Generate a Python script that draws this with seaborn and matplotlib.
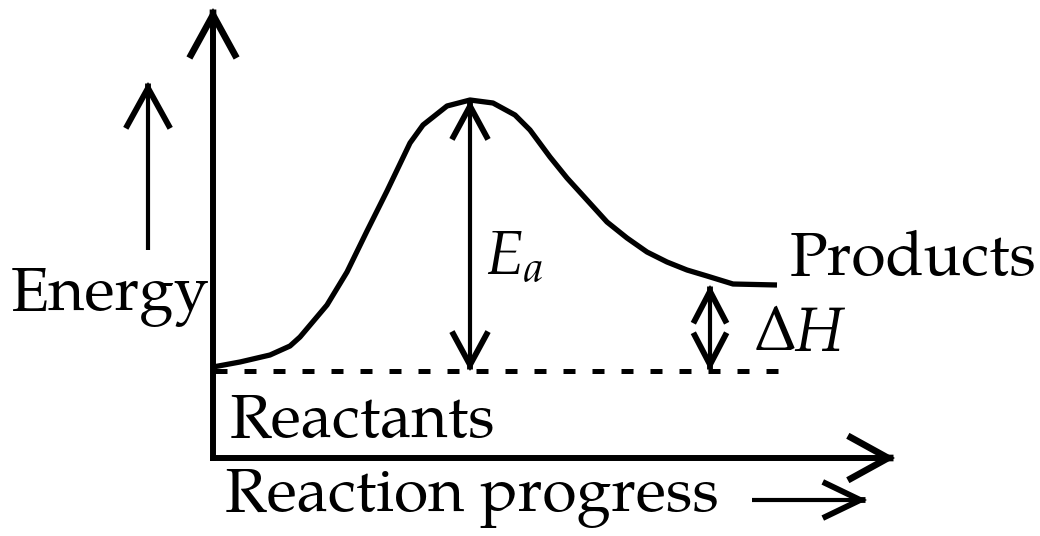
import matplotlib
matplotlib.use("Agg")
import matplotlib.pyplot as plt
import seaborn as sns
import pandas as pd
import numpy as np

# ---- data (reaction progress vs energy, arbitrary units) ----
progress = [0, 27, 57, 77, 87, 114, 134, 154, 174, 197, 210, 234, 257,
            280, 302, 317, 337, 354, 374, 394, 414, 434, 454, 474, 494, 520, 564]
energy = [91, 96, 103, 112, 121, 153, 186, 227, 267, 315, 333, 352, 358,
          355, 343, 328, 301, 280, 258, 236, 220, 206, 196, 188, 182, 174, 173]
reactant_level = 87
product_level = 173
reactant_span = [2, 569]
dH_progress = 497

label_energy = "Energy"
label_progress = "Reaction progress"
label_reactants = "Reactants"
label_products = "Products"
label_ea = r"$E_a$"
label_dh = r"$\Delta H$"

FONT = ["TeX Gyre Pagella", "Liberation Serif", "DejaVu Serif"]

sns.set_style("white")
plt.rcParams["font.family"] = FONT
plt.rcParams["text.color"] = "black"
plt.rcParams["mathtext.fontset"] = "custom"
plt.rcParams["mathtext.rm"] = "TeX Gyre Pagella"
plt.rcParams["mathtext.it"] = "TeX Gyre Pagella:italic"

fig = plt.figure(figsize=(10.4, 5.36), dpi=100)
ax = fig.add_axes([0, 0, 1, 1])
ax.set_xlim(-213, 827)
ax.set_ylim(-78, 458)
ax.axis("off")

df = pd.DataFrame({"progress": progress, "energy": energy})
sns.lineplot(data=df, x="progress", y="energy", ax=ax, color="black",
             lw=3.8, sort=False, solid_joinstyle="round", solid_capstyle="butt")

lw_d = 3.6
dash_df = pd.DataFrame({"x": reactant_span, "y": [reactant_level] * 2})
sns.lineplot(data=dash_df, x="x", y="y", ax=ax, color="black", lw=lw_d,
             linestyle=(0, (12 * 0.72 / lw_d, 17 * 0.72 / lw_d)),
             dash_capstyle="butt")


def unit(tail, tip):
    t = np.array(tail, float)
    p = np.array(tip, float)
    return t, p, (p - t) / np.hypot(*(p - t))


def head(tail, tip, hl, hw, lw):
    t, p, d = unit(tail, tip)
    ax.annotate("", xy=tuple(p), xytext=tuple(p - d * 2), xycoords="data",
                arrowprops=dict(arrowstyle=f"->,head_length={hl},head_width={hw}",
                                lw=lw, color="black", shrinkA=0, shrinkB=0,
                                mutation_scale=1, joinstyle="miter",
                                capstyle="butt"))


def arrow(tail, tip, hl, hw, lw, hlw, both=False):
    t, p, d = unit(tail, tip)
    cut = 2.0 * hlw
    s_tip = p - d * cut
    s_tail = t + d * cut if both else t
    ax.annotate("", xy=tuple(s_tip), xytext=tuple(s_tail), xycoords="data",
                arrowprops=dict(arrowstyle="-", lw=lw, color="black",
                                shrinkA=0, shrinkB=0, capstyle="butt"))
    head(tail, tip, hl, hw, hlw)
    if both:
        head(tip, tail, hl, hw, hlw)


# axes
arrow((0, -3), (0, 450), 31, 17, 4.3, 4.8)
arrow((-3, 0), (682, 0), 29, 16, 4.3, 4.8)

# Ea and dH
peak_i = energy.index(max(energy))
arrow((progress[peak_i], reactant_level), (progress[peak_i], max(energy)), 24, 13, 3.0, 4.2, both=True)
arrow((dH_progress, reactant_level), (dH_progress, product_level), 23, 12, 3.0, 4.2, both=True)

# small direction arrows
arrow((-65, 208), (-65, 376), 29, 16, 3.0, 4.2)
arrow((539, -42), (654, -42), 27, 13, 3.0, 4.2)

fs = 45
kw = dict(fontsize=fs, va="baseline", ha="left", color="black", family=FONT)
ax.text(-202, 148, label_energy, **kw)
ax.text(17, 21, label_reactants, **kw)
ax.text(577, 183, label_products, **kw)
ax.text(12, -53, label_progress, **kw)
ax.text(272, 185, label_ea, **kw)
ax.text(542, 108, label_dh, **kw)

fig.savefig("out.png", dpi=100)
